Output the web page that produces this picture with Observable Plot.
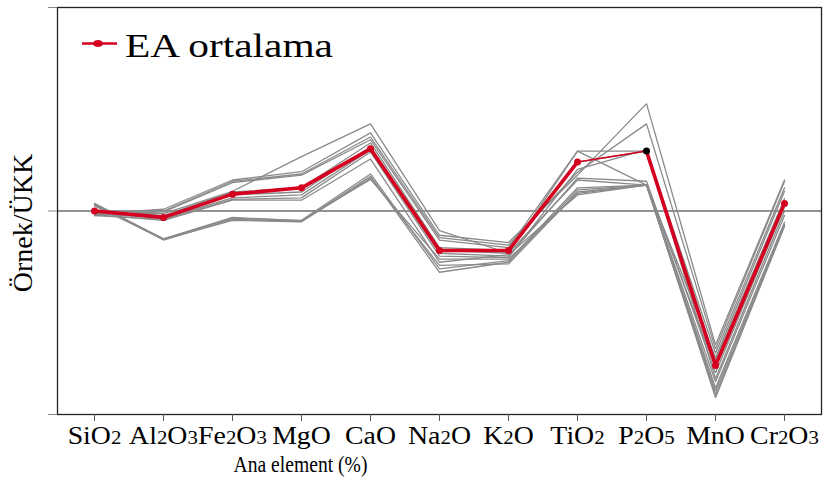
<!DOCTYPE html>
<html>
<head>
<meta charset="utf-8">
<script src="https://cdn.jsdelivr.net/npm/d3@7"></script>
<script src="https://cdn.jsdelivr.net/npm/@observablehq/plot@0.6"></script>
<style>
  html, body { margin: 0; padding: 0; background: white; }
  #wrap { position: relative; width: 838px; height: 491px; }
  #legend { position: absolute; left: 0; top: 0; }
  #wrap svg text { font-family: "Liberation Serif", "Times New Roman", serif !important; }
</style>
</head>
<body>
<div id="wrap"></div>
<script>
// Oxide categories (x axis)
const categories = ["SiO2","Al2O3","Fe2O3","MgO","CaO","Na2O","K2O","TiO2","P2O5","MnO","Cr2O3"];

// EA mean (sample / UCC)
const eaMean = [1.00, 0.93, 1.21, 1.30, 2.02, 0.64, 0.64, 1.74, 1.97, 0.174, 1.09];

// Individual samples (sample / UCC), one array per sample
const samples = [
  [0.97, 1.02, 1.42, 1.56, 2.42, 0.76, 0.70, 1.50, 3.37, 0.22, 1.42],
  [0.95, 1.00, 1.40, 1.52, 2.31, 0.74, 0.68, 1.55, 2.68, 0.21, 1.40],
  [0.96, 0.99, 1.38, 1.50, 2.24, 0.72, 0.66, 1.97, 1.97, 0.20, 1.30],
  [0.97, 0.97, 1.25, 1.85, 2.68, 0.80, 0.62, 1.97, 1.34, 0.19, 1.25],
  [1.00, 0.95, 1.24, 1.30, 2.16, 0.66, 0.64, 1.74, 1.97, 0.185, 1.15],
  [0.98, 0.93, 1.20, 1.24, 2.07, 0.64, 0.62, 1.42, 1.34, 0.17, 1.10],
  [0.97, 0.92, 1.16, 1.20, 2.00, 0.62, 0.60, 1.45, 1.40, 0.16, 1.05],
  [0.95, 0.91, 1.14, 1.16, 1.95, 0.60, 0.59, 1.60, 2.00, 0.15, 1.00],
  [0.96, 0.90, 1.13, 1.13, 1.80, 0.56, 0.61, 1.20, 1.34, 0.145, 0.95],
  [1.09, 0.73, 0.92, 0.90, 1.52, 0.52, 0.57, 1.30, 1.34, 0.135, 0.88],
  [1.08, 0.72, 0.91, 0.89, 1.48, 0.50, 0.56, 1.27, 1.34, 0.13, 0.86],
  [1.07, 0.725, 0.90, 0.885, 1.45, 0.54, 0.55, 1.24, 1.34, 0.125, 0.85],
  [1.06, 0.73, 0.93, 0.895, 1.43, 0.58, 0.58, 1.22, 1.34, 0.121, 0.84]
];

const yTicks = [0.1, 1, 10];
const legendLabel = "EA ortalama";
const xTitle = "Ana element (%)";
const yTitle = "Örnek/ÜKK";

const RED = "#d5001f";
const FONT = "Liberation Serif";

const sampleRows = samples.flatMap((s, i) => s.map((v, j) => ({id: i, el: categories[j], v})));
const meanRows = eaMean.map((v, j) => ({el: categories[j], v, idx: j}));
const meanThick = meanRows.map(d => ({...d, part: d.idx <= 7 ? "a" : "b"}));
const meanThin = meanRows.filter(d => d.idx === 7 || d.idx === 8);

const chart = Plot.plot({
  width: 838,
  height: 491,
  marginLeft: 57,
  marginRight: 17,
  marginTop: 7,
  marginBottom: 77,
  style: {fontFamily: FONT, background: "white", color: "black", overflow: "visible"},
  x: {type: "point", domain: categories, padding: 0.5},
  y: {type: "log", domain: [0.1, 10]},
  marks: [
    Plot.ruleY([1], {stroke: "#6e6e6e", strokeWidth: 1.4}),
    Plot.line(sampleRows, {x: "el", y: "v", z: "id", stroke: "#8a8a8a", strokeWidth: 1.3, strokeLinejoin: "miter"}),
    Plot.line(meanThin, {x: "el", y: "v", stroke: RED, strokeWidth: 1.6}),
    Plot.line(meanThick, {x: "el", y: "v", z: "part", stroke: RED, strokeWidth: 3.6, strokeLinejoin: "miter"}),
    Plot.dot(meanRows, {x: "el", y: "v", r: 3.5, fill: d => d.el === "P2O5" ? "black" : RED, stroke: "none"}),
    Plot.frame({stroke: "#222", strokeWidth: 1.3}),
    Plot.axisY({ticks: yTicks, tickSize: 9, tickFormat: () => "", stroke: "#888", label: null}),
    Plot.axisX({tickSize: 7, tickPadding: 4, fontSize: 26, fontFamily: FONT, stroke: "#555", label: null}),
    Plot.text([xTitle], {frameAnchor: "bottom", dx: -139, dy: 57, fontSize: 23, fontFamily: FONT, fill: "black"}),
    Plot.text([yTitle], {frameAnchor: "left", textAnchor: "middle", rotate: -90, dx: -34, dy: 12, fontSize: 28, fontFamily: FONT, fill: "black"})
  ]
});

// Render subscripts in the oxide tick labels
const tickTexts = d3.select(chart).selectAll('[aria-label="x-axis tick label"] text');
tickTexts.each(function() {
  const t = d3.select(this);
  const s = t.text();
  t.text("");
  const parts = s.match(/[A-Za-z]+|[0-9]+/g) || [s];
  parts.forEach(p => {
    const ts = t.append("tspan").text(p);
    if (/^[0-9]+$/.test(p)) ts.attr("font-size", "75%");
  });
});

document.getElementById("wrap").appendChild(chart);

// widen the tick labels slightly (reference glyphs are horizontally stretched)
tickTexts.each(function() {
  const w = this.getComputedTextLength();
  this.setAttribute("textLength", (w * 1.07).toFixed(1));
  this.setAttribute("lengthAdjust", "spacingAndGlyphs");
});

// x title: reference glyphs are a little narrower than the font
d3.select(chart).selectAll("text").filter(function() { return this.textContent === xTitle; })
  .attr("textLength", 134).attr("lengthAdjust", "spacingAndGlyphs");

// Legend (inside plot area, top-left)
const ns = "http://www.w3.org/2000/svg";
const leg = d3.select("#wrap").append(() => document.createElementNS(ns, "svg"))
  .attr("id", "legend").attr("width", 360).attr("height", 80);
leg.append("line").attr("x1", 82).attr("x2", 117).attr("y1", 43.5).attr("y2", 43.5)
  .attr("stroke", RED).attr("stroke-width", 2.6);
leg.append("ellipse").attr("cx", 98).attr("cy", 43.5).attr("rx", 5).attr("ry", 3.6).attr("fill", RED);
leg.append("text").attr("x", 125).attr("y", 57).attr("font-family", FONT).attr("font-size", 33)
  .attr("textLength", 208).attr("lengthAdjust", "spacingAndGlyphs").attr("fill", "black")
  .text(legendLabel);
</script>
</body>
</html>
